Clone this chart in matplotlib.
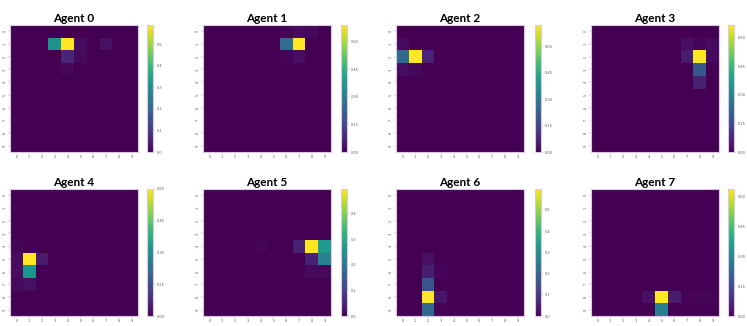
import numpy as np
import matplotlib
matplotlib.use("Agg")
import matplotlib.pyplot as plt
import seaborn as sns

# visit-probability grids per agent (row, col) -> value, everything else ~0
agent_names = ["Agent 0", "Agent 1", "Agent 2", "Agent 3",
               "Agent 4", "Agent 5", "Agent 6", "Agent 7"]

agent0 = {(1, 3): 0.30, (1, 4): 0.59, (1, 5): 0.02, (1, 7): 0.025,
          (2, 4): 0.06, (2, 5): 0.015, (3, 4): 0.01}
agent1 = {(0, 6): 0.01, (0, 7): 0.02, (0, 8): 0.015,
          (1, 6): 0.24, (1, 7): 0.69, (2, 6): 0.008, (2, 7): 0.025}
agent2 = {(1, 0): 0.02, (2, 0): 0.25, (2, 1): 0.72, (2, 2): 0.07,
          (3, 0): 0.025, (3, 1): 0.015}
agent3 = {(1, 7): 0.025, (1, 8): 0.008, (1, 9): 0.02,
          (2, 7): 0.05, (2, 8): 0.667, (2, 9): 0.02,
          (3, 8): 0.18, (4, 8): 0.06}
agent4 = {(4, 0): 0.008, (5, 0): 0.02, (5, 1): 0.60, (5, 2): 0.04,
          (6, 0): 0.02, (6, 1): 0.31, (7, 0): 0.015, (7, 1): 0.025}
agent5 = {(4, 4): 0.004, (4, 7): 0.045, (4, 8): 0.496, (4, 9): 0.27,
          (5, 8): 0.045, (5, 9): 0.22, (6, 8): 0.012, (6, 9): 0.012}
agent6 = {(5, 2): 0.025, (6, 2): 0.05, (6, 3): 0.006, (7, 2): 0.16,
          (8, 2): 0.598, (8, 3): 0.035, (9, 2): 0.20, (9, 3): 0.006}
agent7 = {(8, 4): 0.025, (8, 5): 0.639, (8, 6): 0.05, (8, 7): 0.006,
          (8, 8): 0.012, (8, 9): 0.006, (9, 5): 0.27}

cbar_ticks = [
    [0.0, 0.1, 0.2, 0.3, 0.4, 0.5],
    [0.0, 0.15, 0.30, 0.45, 0.60],
    [0.0, 0.15, 0.30, 0.45, 0.60],
    [0.0, 0.15, 0.30, 0.45, 0.60],
    [0.0, 0.15, 0.30, 0.45, 0.60],
    [0.0, 0.1, 0.2, 0.3, 0.4],
    [0.0, 0.1, 0.2, 0.3, 0.4, 0.5],
    [0.0, 0.15, 0.30, 0.45, 0.60],
]
cbar_fmt = ["%.1f", "%.2f", "%.2f", "%.2f", "%.2f", "%.1f", "%.1f", "%.2f"]

grids = []
for cells in [agent0, agent1, agent2, agent3, agent4, agent5, agent6, agent7]:
    g = np.zeros((10, 10))
    for (r, c), v in cells.items():
        g[r, c] = v
    grids.append(g)

W, H = 747, 326
fig = plt.figure(figsize=(W / 100, H / 100), dpi=100)

hm_left = [10, 203, 396, 591]
cb_left = [147, 341, 535, 728]
row_top = [25, 189]
size = 128
edge = "#dcc8e4"

for i, grid in enumerate(grids):
    r, c = divmod(i, 4)
    top = row_top[r]
    ax = fig.add_axes([hm_left[c] / W, 1 - (top + size - 1) / H,
                       size / W, (size - 1) / H])
    cax = fig.add_axes([cb_left[c] / W, 1 - (top + size - 1) / H,
                        6 / W, (size - 1) / H])
    sns.heatmap(grid, ax=ax, cbar_ax=cax, cmap="viridis", vmin=0,
                cbar_kws={"ticks": cbar_ticks[i], "format": cbar_fmt[i]})
    ax.set_title(agent_names[i], fontsize=8.5, fontweight="bold",
                 family="Lato", pad=2)
    ax.set_xticks(np.arange(10) + 0.5)
    ax.set_xticklabels([str(k) for k in range(10)], fontsize=2.5, color="#555555")
    ax.set_yticks(np.arange(10) + 0.5)
    ax.set_yticklabels([str(k) for k in range(10)], fontsize=2.5,
                       color="#555555", rotation=90, va="center")
    ax.tick_params(length=1.5, width=0.3, pad=1, color="#888888")
    for s in ax.spines.values():
        s.set_visible(True)
        s.set_color(edge)
        s.set_linewidth(0.8)
    cax.tick_params(labelsize=2.5, length=1.5, width=0.3, pad=1,
                    labelcolor="#555555", color="#888888")
    cb = ax.collections[0].colorbar
    cb.outline.set_visible(True)
    cb.outline.set_edgecolor(edge)
    cb.outline.set_linewidth(0.8)

fig.savefig("out.png", dpi=100)
